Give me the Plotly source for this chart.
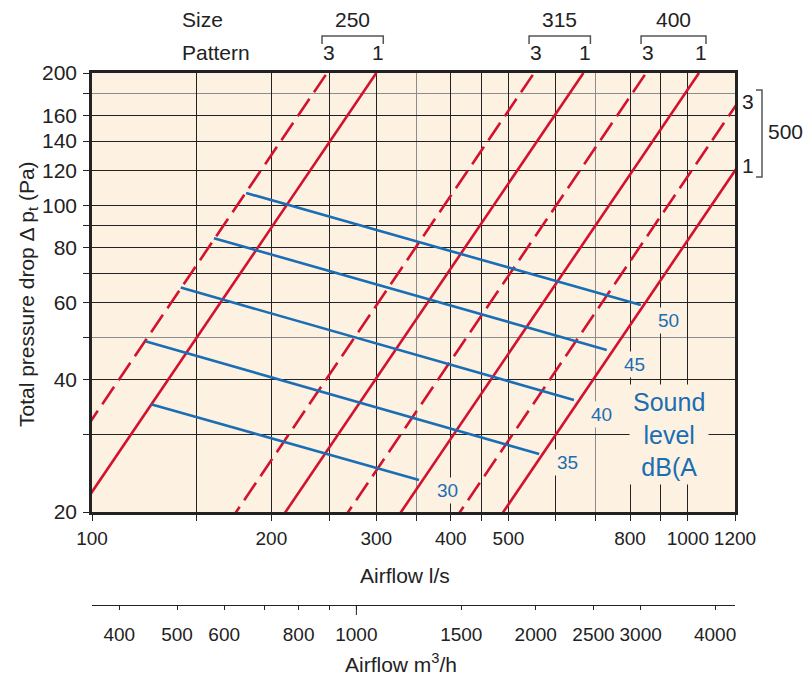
import math
import plotly.graph_objects as go

# ---------------- data ----------------
duct_sizes = ["250", "250", "315", "315", "400", "400", "500", "500"]
patterns = ["3", "1", "3", "1", "3", "1", "3", "1"]
flow_at_200pa = [248, 300, 552, 668, 851, 1044, 1311, 1550]  # l/s at which each curve reaches 200 Pa

sound_levels = ["30", "35", "40", "45", "50"]
sl_start_flow = [125.6, 122.9, 140.9, 160.2, 181.4]
sl_start_dp = [35.2, 49.0, 64.9, 84.1, 106.6]
sl_end_flow = [353.9, 563, 644, 731, 834]
sl_end_dp = [23.65, 27.1, 36.0, 46.8, 59.2]

x_ticks_ls = [100, 150, 200, 250, 300, 400, 450, 500, 600, 800, 900, 1000, 1200]
x_labels_ls = ["100", "", "200", "", "300", "400", "", "500", "", "800", "", "1000", "1200"]
x_minor_ls = [350, 700]
y_ticks = [20, 30, 40, 60, 70, 80, 90, 100, 120, 140, 160, 200]
y_labels = ["20", "", "40", "60", "", "80", "", "100", "120", "140", "160", "200"]
y_minor = [50, 180]
x_ticks_m3h = [400, 500, 600, 700, 800, 900, 1000, 1500, 2000, 2500, 3000, 4000]
x_labels_m3h = ["400", "500", "600", "", "800", "", "1000", "1500", "2000", "2500", "3000", "4000"]

X_MIN, X_MAX = 100, 1200
Y_MIN, Y_MAX = 20, 200
M3H_PER_LS = 3.6

# ---------------- styling ----------------
W, H = 804, 679
ML, MR, MT, MB = 92, 69, 73, 74
PLOT_BOTTOM_PX = 512
RED = "#d2122e"
BLUE = "#1b6db4"
CREAM = "#fdf2e1"
INK = "#222222"
FONT = "Liberation Sans, Arial, sans-serif"
TS = 19   # x tick label size
YTS = 21  # y tick label size
LS = 21   # other label size
level_label_yshift = [-10, -8, -15, -15, -15]

pw = W - ML - MR
ph = H - MT - MB


def px_x(px):
    return (px - ML) / pw


def px_y(py):
    return (H - MB - py) / ph


def q_to_px(q):
    return ML + pw * math.log10(q / X_MIN) / math.log10(X_MAX / X_MIN)


def label(x, y, text, size=LS, color=INK, xref="paper", yref="paper", **kw):
    d = dict(x=x, y=y, xref=xref, yref=yref, text=text, showarrow=False,
             xanchor="center", yanchor="middle",
             font=dict(family=FONT, size=size, color=color))
    d.update(kw)
    return d


fig = go.Figure()

# system curves (dp ~ q^2)
for size, pat, q200 in zip(duct_sizes, patterns, flow_at_200pa):
    dps = [Y_MIN * 0.5, Y_MAX]
    qs = [q200 * math.sqrt(d / 200.0) for d in dps]
    fig.add_trace(go.Scatter(
        x=qs, y=dps, mode="lines",
        line=dict(color=RED, width=2.6, dash="solid" if pat == "1" else "21px,8px"),
        name=f"{size} / {pat}", showlegend=False, hoverinfo="skip"))

# sound level lines
for lvl, q0, p0, q1, p1 in zip(sound_levels, sl_start_flow, sl_start_dp, sl_end_flow, sl_end_dp):
    fig.add_trace(go.Scatter(
        x=[q0, q1], y=[p0, p1], mode="lines",
        line=dict(color=BLUE, width=2.6),
        name=f"{lvl} dB(A)", showlegend=False, hoverinfo="skip"))

# invisible trace to activate the m3/h axis
fig.add_trace(go.Scatter(x=[X_MIN * M3H_PER_LS, X_MAX * M3H_PER_LS], y=[Y_MIN, Y_MIN],
                         xaxis="x2", yaxis="y", mode="lines", line=dict(width=0),
                         showlegend=False, hoverinfo="skip"))

annotations = []
shapes = []

# sound level labels
for lvl, q1, p1, dy in zip(sound_levels, sl_end_flow, sl_end_dp, level_label_yshift):
    annotations.append(label(math.log10(q1), math.log10(p1), lvl, size=19, color=BLUE,
                             xref="x", yref="y", xshift=28, yshift=dy,
                             bgcolor=CREAM, borderpad=2))
annotations.append(label(px_x(669), px_y(434), "Sound<br>level<br>dB(A", size=25, color=BLUE,
                         align="center", bgcolor=CREAM, borderpad=3))

# top labels: Size / Pattern
y_size = px_y(20)
y_pat = px_y(53)
annotations.append(label(px_x(180), y_size, "Size", xanchor="left"))
annotations.append(label(px_x(180), y_pat, "Pattern", xanchor="left"))

top_sizes = [s for s in dict.fromkeys(duct_sizes) if s != "500"]
for s in top_sizes:
    idx = [i for i, d in enumerate(duct_sizes) if d == s]
    q3 = flow_at_200pa[idx[0]]
    q1 = flow_at_200pa[idx[1]]
    x3, x1 = q_to_px(q3), q_to_px(q1)
    annotations.append(label(px_x((x3 + x1) / 2 + 1), y_size, s))
    for pat, xx in ((patterns[idx[0]], x3), (patterns[idx[1]], x1)):
        annotations.append(label(px_x(xx + 2), y_pat, pat))
    bl, br = x3 - 5, x1 + 7
    shapes.append(dict(type="path", xref="paper", yref="paper",
                       path=f"M {px_x(bl)} {px_y(44)} L {px_x(bl)} {px_y(36)} L {px_x(br)} {px_y(36)} L {px_x(br)} {px_y(44)}",
                       line=dict(color="#555555", width=1.5)))

# right labels for size 500
idx = [i for i, d in enumerate(duct_sizes) if d == "500"]
for i in idx:
    dp_edge = 200.0 * (X_MAX / flow_at_200pa[i]) ** 2
    annotations.append(label(px_x(748), math.log10(dp_edge), patterns[i], yref="y", yshift=5))
annotations.append(label(px_x(785), px_y(131), "500"))
shapes.append(dict(type="path", xref="paper", yref="paper",
                   path=f"M {px_x(756)} {px_y(90)} L {px_x(762)} {px_y(90)} L {px_x(762)} {px_y(177)} L {px_x(756)} {px_y(177)}",
                   line=dict(color="#555555", width=1.5)))

# axis titles
annotations.append(label(px_x(28), px_y(294), "Total pressure drop Δ p<sub>t</sub> (Pa)", textangle=-90))
annotations.append(label(px_x(405), px_y(575), "Airflow l/s"))
annotations.append(label(px_x(401), px_y(663), "Airflow m<sup>3</sup>/h"))

# longer tick at 1000 m3/h
shapes.append(dict(type="line", xref="x2", yref="paper", x0=1000, x1=1000, y0=0, y1=px_y(605 + 10),
                   line=dict(color=INK, width=1)))

tickfont = dict(family=FONT, size=TS, color=INK)

fig.update_layout(
    width=W, height=H,
    margin=dict(l=ML, r=MR, t=MT, b=MB),
    paper_bgcolor="white", plot_bgcolor=CREAM,
    showlegend=False,
    xaxis=dict(type="log", range=[math.log10(X_MIN), math.log10(X_MAX)], anchor="y",
               tickmode="array", tickvals=x_ticks_ls, ticktext=x_labels_ls, tickangle=0,
               ticks="outside", ticklen=6, tickwidth=1, tickcolor=INK, tickfont=tickfont,
               ticklabelstandoff=1,
               showline=True, linecolor=INK, linewidth=2.5, mirror=True,
               showgrid=True, gridcolor=INK, gridwidth=1, zeroline=False,
               minor=dict(tickmode="array", tickvals=x_minor_ls, ticks="outside", ticklen=6,
                          tickcolor=INK, showgrid=True, gridcolor="#8c8c8c", gridwidth=1.2)),
    xaxis2=dict(type="log", range=[math.log10(X_MIN * M3H_PER_LS), math.log10(X_MAX * M3H_PER_LS)],
                anchor="free", position=0, overlaying="x", side="bottom",
                tickmode="array", tickvals=x_ticks_m3h, ticktext=x_labels_m3h, tickangle=0,
                ticks="outside", ticklen=4, tickwidth=1, tickcolor=INK, tickfont=tickfont,
                ticklabelstandoff=8,
                showline=True, linecolor=INK, linewidth=1.2, showgrid=False, zeroline=False),
    yaxis=dict(type="log", range=[math.log10(Y_MIN), math.log10(Y_MAX)],
               domain=[px_y(PLOT_BOTTOM_PX), 1],
               tickmode="array", tickvals=y_ticks, ticktext=y_labels,
               ticks="outside", ticklen=6, tickwidth=1, tickcolor=INK,
               tickfont=dict(family=FONT, size=YTS, color=INK),
               ticklabelstandoff=2,
               showline=True, linecolor=INK, linewidth=2.5, mirror=True,
               showgrid=True, gridcolor=INK, gridwidth=1, zeroline=False,
               minor=dict(tickmode="array", tickvals=y_minor, ticks="outside", ticklen=6,
                          tickcolor=INK, showgrid=True, gridcolor="#8c8c8c", gridwidth=1.2)),
    annotations=annotations,
    shapes=shapes,
)

fig.write_html("out.html", config={"displayModeBar": False},
               post_script="document.body.style.margin='0px';")
